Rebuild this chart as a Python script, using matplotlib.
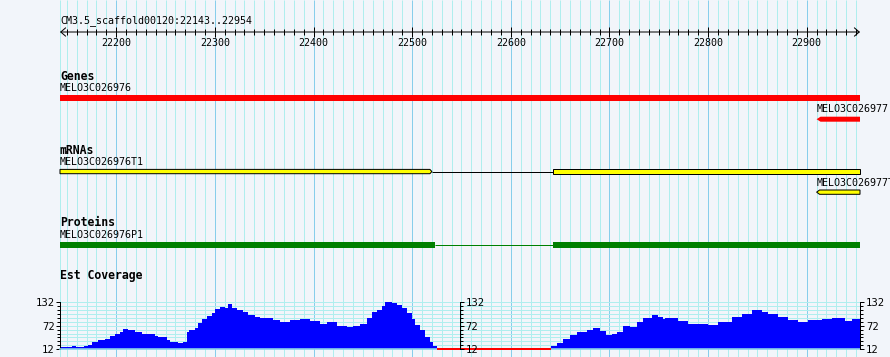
import numpy as np
import matplotlib
matplotlib.use('Agg')
import matplotlib.pyplot as plt
from matplotlib.patches import Polygon
from matplotlib.ticker import FixedLocator

# Region shown
view_start = 22143
view_end = 22954
region_title = 'CM3.5_scaffold00120:22143..22954'
ruler_labels = [22200, 22300, 22400, 22500, 22600, 22700, 22800, 22900]

# Genes track
gene_names = ['MELO3C026976', 'MELO3C026977']
gene_starts = [22143, 22910]
gene_ends = [22954, 22954]
gene_strands = [1, -1]

# mRNAs track
mrna_names = ['MELO3C026976T1', 'MELO3C026977T1']
mrna1_exons = [(22143, 22520), (22643, 22954)]
mrna2_exons = [(22910, 22954)]

# Proteins track
protein_name = 'MELO3C026976P1'
protein_cds = [(22143, 22523), (22643, 22954)]

# Est coverage (step starts in bp, depth)
cov_starts = [22143, 22155, 22159, 22167, 22171, 22175, 22182, 22189, 22194, 22199,
              22204, 22207, 22212, 22219, 22226, 22232, 22239, 22242, 22251, 22255,
              22263, 22268, 22272, 22274, 22280, 22283, 22287, 22292, 22297, 22300,
              22305, 22310, 22313, 22317, 22322, 22329, 22334, 22341, 22346, 22359,
              22366, 22376, 22386, 22396, 22407, 22414, 22424, 22434, 22440, 22447,
              22454, 22459, 22464, 22469, 22472, 22480, 22485, 22490, 22495, 22500,
              22503, 22508, 22513, 22518, 22521, 22525, 22540, 22548, 22582, 22589,
              22606, 22609, 22641, 22647, 22653, 22660, 22667, 22677, 22683, 22690,
              22697, 22703, 22708, 22714, 22721, 22728, 22734, 22743, 22749, 22754,
              22756, 22770, 22780, 22800, 22810, 22824, 22834, 22845, 22855, 22861,
              22871, 22881, 22891, 22901, 22915, 22926, 22939, 22946]
cov_values = [18, 20.5, 18, 20, 23, 30.6, 35.7, 38, 45, 50,
              57, 63.5, 60, 55, 52, 50, 46.6, 43, 35.7, 30.6,
              29, 31.5, 55, 62, 65, 78, 88, 96.5, 103, 114,
              119, 116, 126, 117.6, 112.5, 107.5, 99, 94, 90.6, 87,
              82, 85.5, 89, 83.8, 77, 80.5, 72, 68, 72, 77,
              92, 107.5, 112.5, 122.7, 131, 129.5, 124, 116, 103, 89,
              74, 61, 44, 31.5, 21, 16.5, 15.5, 16, 14.5, 15.5,
              14.5, 16, 21, 29, 38, 48, 57, 60, 65, 58.6,
              48, 50, 57, 72, 68.6, 80.5, 92, 99, 95, 89,
              90.6, 83.8, 77, 74, 80.5, 94, 102.4, 111, 106, 100.7,
              94, 87, 82, 85.5, 89, 90.6, 83.8, 89]
cov_ticks = [12, 72, 132]
cov_mid_axis = 22549
low_cov = 17

# Colours / layout
W, H = 890, 357
bg = '#F2F5FA'
minor_grid = '#AFEEEE'
major_grid = '#87CEEB'
mono = 'DejaVu Sans Mono'
px = 0.72  # one pixel in points at dpi 100

fig = plt.figure(figsize=(W / 100, H / 100), dpi=100, facecolor=bg)
ax = fig.add_axes([60 / W, 0, 800 / W, 1])
ax.set_xlim(view_start, view_end)
ax.set_ylim(H, 0)
ax.axis('off')

# vertical grid, every 10 bp, heavier every 100 bp
grid_bp = np.arange(22150, view_end, 10)
minor_bp = [b for b in grid_bp if b % 100 != 0]
major_bp = [b for b in grid_bp if b % 100 == 0]
ax.vlines([view_start] + minor_bp, 0, H, color=minor_grid, lw=px, zorder=0, clip_on=False)
ax.vlines(major_bp, 0, H, color=major_grid, lw=px, zorder=0, clip_on=False)

# ruler
ax.text(view_start, 21, region_title, family=mono, fontsize=7.2, va='center', ha='left')
ax.annotate('', xy=(view_start, 32), xytext=(view_end, 32),
            arrowprops=dict(arrowstyle='<->, head_length=0.35, head_width=0.3',
                            lw=px, color='black', shrinkA=0, shrinkB=0), annotation_clip=False)
ax.vlines(minor_bp, 29.3, 34.7, color='black', lw=px)
ax.vlines(major_bp, 27.3, 36.7, color='black', lw=px)
for b in ruler_labels:
    ax.text(b, 42.5, str(b), family=mono, fontsize=7.2, ha='center', va='center')


def feature(start, end, ytop, ybot, strand, tip, **kw):
    ymid = (ytop + ybot) / 2
    if strand < 0:
        pts = [(start, ymid), (start + tip, ytop), (end, ytop), (end, ybot), (start + tip, ybot)]
    elif strand > 0:
        pts = [(start, ytop), (end - tip, ytop), (end, ymid), (end - tip, ybot), (start, ybot)]
    else:
        pts = [(start, ytop), (end, ytop), (end, ybot), (start, ybot)]
    ax.add_patch(Polygon(pts, closed=True, clip_on=False, **kw))


def track_label(y, text):
    ax.text(view_start, y, text, family=mono, fontsize=8.3, fontweight='bold', va='center', ha='left')


def name_label(x, y, text):
    ax.text(x, y, text, family=mono, fontsize=7.2, va='center', ha='left', clip_on=False)


# Genes
track_label(76, 'Genes')
name_label(gene_starts[0], 88, gene_names[0])
feature(gene_starts[0], gene_ends[0], 95, 101, 0, 0, facecolor='red', edgecolor='none')
name_label(gene_starts[1], 109, gene_names[1])
feature(gene_starts[1], gene_ends[1], 116.7, 121.7, gene_strands[1], 4, facecolor='red', edgecolor='none')

# mRNAs
track_label(150.5, 'mRNAs')
name_label(view_start, 162, mrna_names[0])
ax.hlines(171.5, mrna1_exons[0][1], mrna1_exons[1][0], color='black', lw=px)
feature(mrna1_exons[0][0], mrna1_exons[0][1], 169.4, 173.7, 1, 2,
        facecolor='yellow', edgecolor='black', lw=px)
feature(mrna1_exons[1][0], mrna1_exons[1][1], 169.4, 173.7, 0, 0,
        facecolor='yellow', edgecolor='black', lw=px)
name_label(mrna2_exons[0][0], 183, mrna_names[1])
feature(mrna2_exons[0][0], mrna2_exons[0][1], 190.0, 194.3, -1, 3,
        facecolor='yellow', edgecolor='black', lw=px)

# Proteins
track_label(223, 'Proteins')
name_label(view_start, 235.5, protein_name)
ax.hlines(244.7, protein_cds[0][1], protein_cds[1][0], color='green', lw=px)
for s, e in protein_cds:
    feature(s, e, 241.8, 247.7, 0, 0, facecolor='green', edgecolor='none')

# Est Coverage
track_label(275, 'Est Coverage')
ax_cov = fig.add_axes([60 / W, (H - 349.3) / H, 800 / W, 47.3 / H])
ax_cov.set_xlim(view_start, view_end)
ax_cov.set_ylim(12, 132)
ax_cov.patch.set_visible(False)
cov = np.array(cov_values)
starts = np.array(cov_starts)
widths = np.diff(cov_starts + [view_end])
low = cov < low_cov
ax_cov.bar(starts[~low], cov[~low] - 12, width=widths[~low], bottom=12, align='edge',
           color='blue', linewidth=0, zorder=2)
# low-coverage stretch is drawn in red, over the baseline
ax_cov.bar(starts[low], cov[low] - 11, width=widths[low], bottom=11, align='edge',
           color='red', linewidth=0, zorder=3, clip_on=False)
minor_levels = np.arange(12, 133, 10)
ax_cov.hlines(minor_levels[1:], view_start, view_end, color=minor_grid, lw=px, zorder=1)
ax_cov.set_xticks([])
for s in ['top', 'right']:
    ax_cov.spines[s].set_visible(False)
ax_cov.spines['bottom'].set_color(major_grid)
ax_cov.spines['bottom'].set_linewidth(1.2)
ax_cov.spines['left'].set_linewidth(px)


def cov_axis(a, pad):
    a.set_ylim(12, 132)
    a.yaxis.set_major_locator(FixedLocator(cov_ticks))
    a.yaxis.set_minor_locator(FixedLocator([v for v in minor_levels if v not in cov_ticks]))
    a.tick_params(axis='y', which='major', length=3.2, width=px, pad=pad,
                  labelsize=7.6, labelfontfamily=mono)
    a.tick_params(axis='y', which='minor', length=2.4, width=px)


cov_axis(ax_cov, 0.6)

ax_r = ax_cov.twinx()
for s in ['top', 'left', 'bottom']:
    ax_r.spines[s].set_visible(False)
ax_r.spines['right'].set_linewidth(px)
cov_axis(ax_r, 1.2)

ax_m = ax_cov.twinx()
for s in ['top', 'left', 'bottom']:
    ax_m.spines[s].set_visible(False)
ax_m.spines['right'].set_position(('data', cov_mid_axis))
ax_m.spines['right'].set_linewidth(px)
cov_axis(ax_m, 0.6)

fig.savefig('out.png', dpi=100, facecolor=bg)
